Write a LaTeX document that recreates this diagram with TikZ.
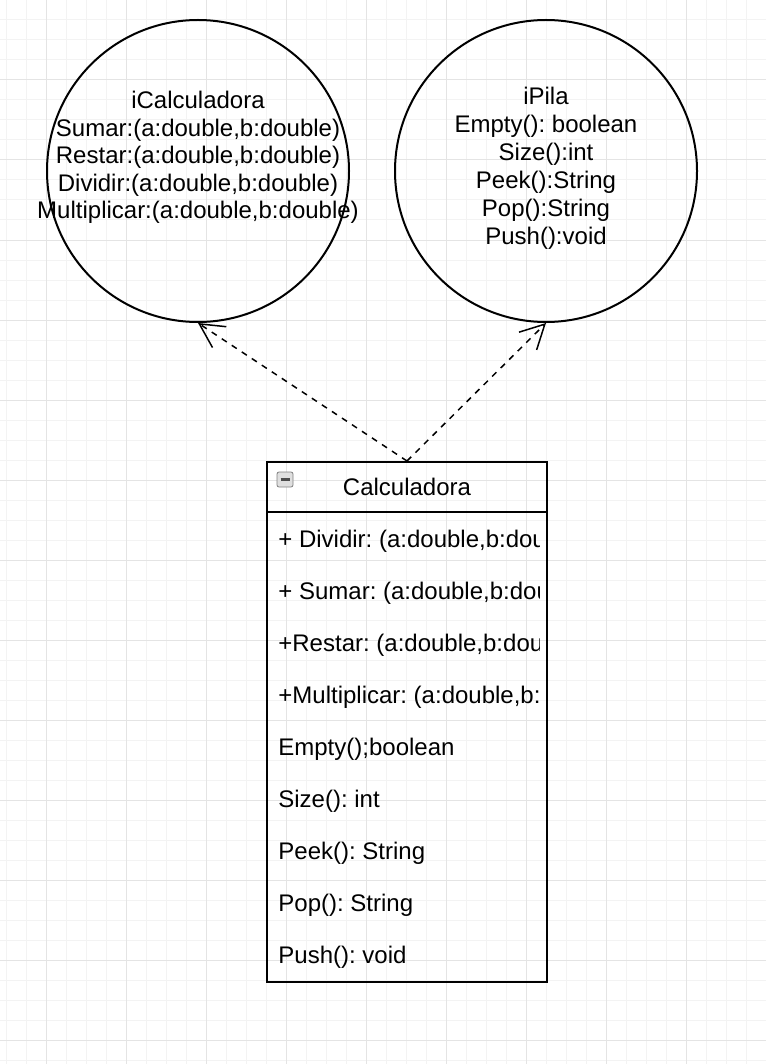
\documentclass[tikz,border=0pt]{standalone}
\usepackage{fontspec}
\setmainfont{Liberation Sans}
\usetikzlibrary{arrows.meta}
\frenchspacing

\definecolor{gridminor}{HTML}{F3F3F3}
\definecolor{gridmajor}{HTML}{E4E4E4}

\begin{document}
\begin{tikzpicture}[x=0.5pt, y=-0.5pt, font=\fontsize{12}{14}\selectfont]
      \tikzstyle{iface}=[draw, circle, line width=1pt, minimum size=151pt, inner sep=0pt]
      \tikzstyle{txt}=[inner sep=0pt, anchor=base]
      \tikzstyle{member}=[inner sep=0pt, anchor=base west]
      \tikzstyle{realize}=[dash pattern=on 3pt off 3pt, line width=0.75pt,
        -{Straight Barb[length=12pt, width=12.5pt]}]

      \useasboundingbox (0,0) rectangle (766,1064);

      % Background grid.
      \foreach \x in {6.7,26.7,...,766}
        \draw[gridminor, line width=0.5pt] (\x,0) -- (\x,1064);
      \foreach \y in {20,40,...,1064}
        \draw[gridminor, line width=0.5pt] (0,\y) -- (766,\y);
      \foreach \x in {46.7,126.7,...,766}
        \draw[gridmajor, line width=0.5pt] (\x,0) -- (\x,1064);
      \foreach \y in {80,160,...,1064}
        \draw[gridmajor, line width=0.5pt] (0,\y) -- (766,\y);

      % Interfaces.
      \node[iface] (icalc) at (198,171) {};
      \node[iface] (ipila) at (546,171) {};

      \foreach \t [count=\i from 0] in {iCalculadora, {Sumar:(a:double,b:double)},
          {Restar:(a:double,b:double)}, {Dividir:(a:double,b:double)},
          {Multiplicar:(a:double,b:double)}}
        \node[txt] (icalc-\i) at (198,109+27.4*\i) {\t};

      \foreach \t [count=\i from 0] in {iPila, Empty(): boolean, Size():int,
          Peek():String, Pop():String, Push():void}
        \node[txt] (ipila-\i) at (546,105+27.8*\i) {\t};

      % Class box.
      \node[draw, line width=1pt, minimum width=140pt, minimum height=260pt,
        inner sep=0pt, anchor=north] (calc) at (407,461) {};
      \draw[line width=1pt] (calc.north west) ++(0,51) -- ++(280,0);
      \node[txt] (calc-name) at (407,495) {Calculadora};

      % Collapse icon.
      \draw[gray, fill=gray!25, rounded corners=1pt] (277,472) rectangle (293,487);
      \draw[black!70, line width=1.2pt] (280.5,479.5) -- (289.5,479.5);

      \begin{scope}
        \clip (268,513) rectangle (539,980);
        \foreach \t [count=\i from 0] in {{+ Dividir: (a:double,b:double)},
            {+ Sumar: (a:double,b:double)}, {+Restar: (a:double,b:double)},
            {+Multiplicar: (a:double,b:double)}, Empty();boolean, Size(): int,
            Peek(): String, Pop(): String, Push(): void}
          \node[member] (m-\i) at (278,547+52*\i) {\t};
      \end{scope}

      % Realizations.
      \draw[realize] (calc.north) -- (icalc.south);
      \draw[realize] (calc.north) -- (ipila.south);
\end{tikzpicture}
\end{document}
